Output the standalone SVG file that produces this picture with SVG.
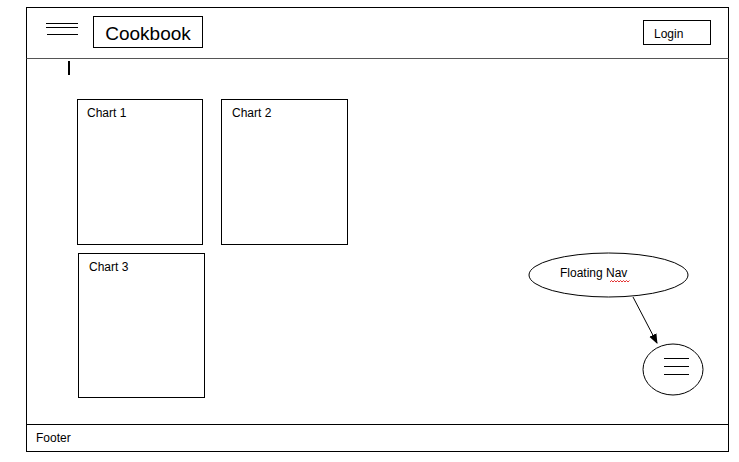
<svg xmlns="http://www.w3.org/2000/svg" width="739" height="462" viewBox="0 0 739 462">
<style>
.box{fill:#fff;stroke:#000;stroke-width:1}
.ln{stroke:#000;stroke-width:1;fill:none}
.t{font-family:"Liberation Sans",Arial,sans-serif;font-size:12px;fill:#000}
</style>
<defs>
<marker id="ah" markerWidth="10" markerHeight="10" refX="9" refY="5" orient="auto" markerUnits="userSpaceOnUse">
<path d="M0,1 L10,5 L0,9 Z" fill="#000"/>
</marker>
</defs>
<rect width="739" height="462" fill="#fff"/>
<g id="frame">
<rect class="box" x="26.5" y="7.5" width="702" height="444"/>
<line x1="26.5" y1="58.5" x2="728.5" y2="58.5" stroke="#555" stroke-width="1.2"/>
<line class="ln" x1="26.5" y1="424.5" x2="728.5" y2="424.5"/>
</g>
<g id="menu-icon">
<line class="ln" x1="46" y1="23.5" x2="78" y2="23.5"/>
<line class="ln" x1="46" y1="27.5" x2="78" y2="27.5"/>
<line class="ln" x1="47" y1="34.5" x2="78" y2="34.5"/>
</g>
<g id="title">
<rect class="box" x="93.5" y="16.5" width="109" height="31"/>
<text x="148" y="40" text-anchor="middle" font-family="'Liberation Sans',Arial,sans-serif" font-size="19">Cookbook</text>
</g>
<g id="cursor">
<line x1="69" y1="61" x2="69" y2="75" stroke="#000" stroke-width="2"/>
</g>
<g id="login">
<rect class="box" x="643.5" y="20.5" width="67" height="24"/>
<text class="t" x="654" y="38" font-size="13">Login</text>
</g>
<g id="chart1">
<rect class="box" x="77.5" y="99.5" width="125" height="145"/>
<text class="t" x="87" y="117">Chart 1</text>
</g>
<g id="chart2">
<rect class="box" x="221.5" y="99.5" width="126" height="145"/>
<text class="t" x="232" y="117">Chart 2</text>
</g>
<g id="chart3">
<rect class="box" x="78.5" y="253.5" width="126" height="144"/>
<text class="t" x="89" y="271">Chart 3</text>
</g>
<g id="floating-nav-label">
<ellipse class="box" cx="608.5" cy="275" rx="79.5" ry="22"/>
<text class="t" x="560" y="277">Floating Nav</text>
<path d="M610,282 l1.5,-1.5 l1.5,1.5 l1.5,-1.5 l1.5,1.5 l1.5,-1.5 l1.5,1.5 l1.5,-1.5 l1.5,1.5 l1.5,-1.5 l1.5,1.5 l1.5,-1.5 l1.5,1.5 l1.5,-1.5" fill="none" stroke="#d00" stroke-width="0.8"/>
</g>
<g id="floating-nav-button">
<ellipse class="box" cx="673" cy="369.5" rx="30" ry="25.5"/>
<line class="ln" x1="664" y1="358.5" x2="689" y2="358.5"/>
<line class="ln" x1="664" y1="366.5" x2="689" y2="366.5"/>
<line class="ln" x1="664" y1="374.5" x2="689" y2="374.5"/>
</g>
<g id="footer">
<text class="t" x="36" y="442">Footer</text>
</g>
<g id="connectors">
<line class="ln" x1="633" y1="297" x2="657" y2="343" marker-end="url(#ah)"/>
</g>
</svg>
